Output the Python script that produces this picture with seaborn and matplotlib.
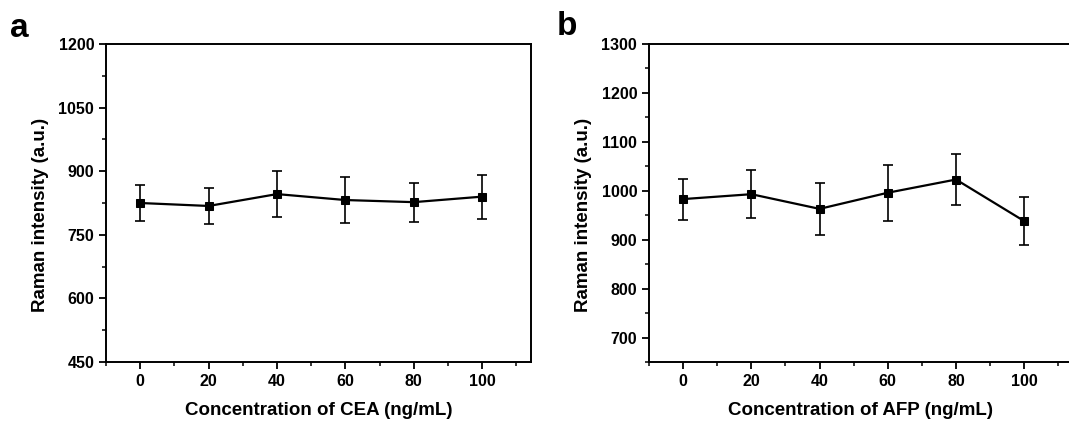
import numpy as np
import pandas as pd
import matplotlib
matplotlib.use("Agg")
import matplotlib.pyplot as plt
import seaborn as sns
from matplotlib.ticker import MultipleLocator

# data
conc = [0, 20, 40, 60, 80, 100]
cea_mean = [825, 818, 846, 832, 827, 840]
cea_err = [42, 42, 55, 55, 46, 52]
afp_mean = [983, 993, 963, 996, 1023, 938]
afp_err = [42, 49, 53, 57, 53, 49]

sns.set_style("ticks")
plt.rcParams['font.family'] = ['Liberation Sans', 'DejaVu Sans']
plt.rcParams['font.weight'] = 'bold'
plt.rcParams['text.color'] = 'black'
plt.rcParams['axes.labelcolor'] = 'black'
plt.rcParams['xtick.color'] = 'black'
plt.rcParams['ytick.color'] = 'black'
plt.rcParams['axes.edgecolor'] = 'black'

W, H = 1069, 421
fig = plt.figure(figsize=(W / 100, H / 100), dpi=100)


def px_axes(left, right, top, bottom):
    return fig.add_axes([left / W, 1 - bottom / H, (right - left) / W, (bottom - top) / H])


def draw_panel(ax, mean, err, ylim, major, xlabel):
    df = pd.DataFrame({'x': conc, 'y': mean})
    ax.errorbar(conc, mean, yerr=err, fmt='none', ecolor='black',
                elinewidth=1.2, capsize=3.5, capthick=1.2, zorder=2)
    sns.lineplot(data=df, x='x', y='y', ax=ax, color='black', linewidth=1.6,
                 marker='s', markersize=5.5, markeredgecolor='black', zorder=3)
    ax.set_xlim(-10, 114.3)
    ax.set_ylim(*ylim)
    ax.set_xticks(conc)
    ax.xaxis.set_minor_locator(MultipleLocator(10))
    ax.yaxis.set_major_locator(MultipleLocator(major))
    ax.yaxis.set_minor_locator(MultipleLocator(major / 2))
    ax.tick_params(axis='both', which='major', direction='out', length=5, width=1.3,
                   labelsize=11.5, top=False, right=False)
    ax.tick_params(axis='both', which='minor', direction='out', length=3, width=1.1,
                   top=False, right=False)
    for lab in ax.get_xticklabels() + ax.get_yticklabels():
        lab.set_fontweight('bold')
    for sp in ax.spines.values():
        sp.set_linewidth(1.4)
        sp.set_visible(True)
    ax.set_xlabel(xlabel, fontsize=13.5, fontweight='bold')
    ax.set_ylabel('Raman intensity (a.u.)', fontsize=13.5, fontweight='bold')
    ax.xaxis.set_label_coords(0.5, -0.125)
    ax.yaxis.set_label_coords(-0.135, 0.461)


ax1 = px_axes(106, 531, 44, 362)
draw_panel(ax1, cea_mean, cea_err, (450, 1200), 150, 'Concentration of CEA (ng/mL)')

ax2 = px_axes(649, 1073, 44, 362)
draw_panel(ax2, afp_mean, afp_err, (650, 1300), 100, 'Concentration of AFP (ng/mL)')

fig.text(10 / W, 1 - 37 / H, 'a', fontsize=24, fontweight='bold')
fig.text(557 / W, 1 - 35 / H, 'b', fontsize=24, fontweight='bold')

fig.savefig('out.png', dpi=100)
